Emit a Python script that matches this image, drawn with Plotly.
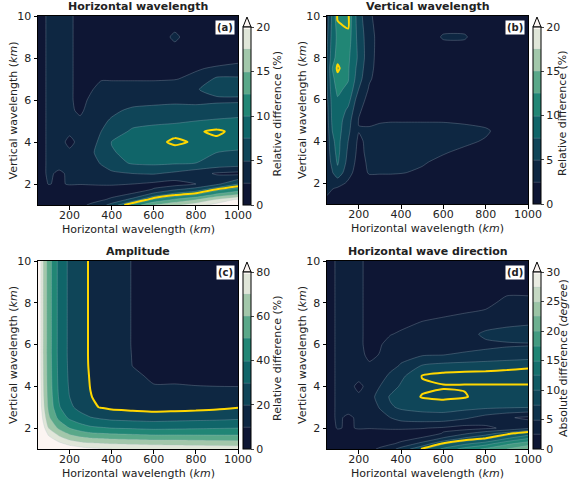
import plotly.graph_objects as go

# Grid of the sensitivity maps
x_km = [50, 75, 100, 150, 200, 250, 300, 350, 400, 500, 600, 700, 800, 900, 1000]
y_km = [1, 1.25, 1.5, 1.75, 2, 2.5, 3, 3.5, 4, 4.5, 5, 5.5, 6, 6.5, 7, 7.5, 8, 9, 10]

# (a) relative difference of horizontal wavelength (%), rows follow y_km
diff_hwl = [
    [1.5, 1.5, 1.5, 1.5, 1.5, 2, 2.8, 4, 6, 11, 15, 17, 19, 21, 24],
    [1.5, 1.5, 1.5, 1.5, 1.5, 1.5, 1.8, 2.2, 3, 6, 10.5, 13, 15, 18, 20.5],
    [1.5, 1.5, 1.5, 1.5, 1.5, 1.5, 1.5, 1.5, 1.8, 2.8, 6, 8.5, 10, 13, 15],
    [1.5, 1.5, 1.5, 1.5, 1.5, 1.5, 1.5, 1.5, 1.5, 1.5, 2.6, 4.5, 6, 9, 11],
    [1.5, 1.8, 2.6, 2.2, 2.7, 2.6, 2.7, 2.8, 2.8, 2.5, 2.0, 1.5, 2.5, 4.5, 7.5],
    [1.5, 2, 3, 2, 3, 3, 3.5, 4, 4.5, 5, 5.2, 4.5, 3.5, 2.2, 1.8],
    [1.5, 2, 3, 3.5, 3, 3.2, 4, 5.2, 6.5, 7.8, 8, 7.8, 7.5, 7, 6.5],
    [1.5, 2, 3, 3.5, 3, 3.3, 4.5, 6, 7.3, 8.2, 8.3, 8.3, 8, 7.5, 7.2],
    [1.5, 2, 3, 3.5, 1.8, 3.3, 4.2, 5.5, 7.6, 8.2, 8.5, 9.3, 8.8, 8.6, 8.5],
    [1.5, 2, 3, 3.5, 3, 3.2, 4, 5, 6, 8, 8.3, 8.5, 8.8, 9.3, 8.5],
    [1.5, 2, 3, 3.5, 3.2, 3, 3.8, 4.5, 5.3, 6.5, 7, 7.2, 7.5, 7.8, 8],
    [1.5, 2, 3, 3.5, 3, 2, 3.5, 4, 4.5, 5.5, 5.5, 5.8, 6, 6.2, 6.5],
    [1.5, 2, 3, 3.5, 3, 1.5, 3, 3.5, 4, 4, 4.5, 4.5, 4.2, 4.5, 4.5],
    [1.5, 2, 3, 3.5, 3, 1.5, 2.2, 3.5, 3.5, 3.5, 3.5, 3.8, 4.8, 6, 6.2],
    [1.5, 2, 3, 3.5, 3, 1.5, 1.5, 2.3, 2.3, 2.3, 2.3, 2.4, 3, 5.5, 5.5],
    [1.5, 2, 3, 3.5, 3, 1.5, 1, 1, 1.2, 1.5, 1.8, 2, 2.3, 2.8, 3],
    [1.5, 2, 3, 3.5, 3, 1.5, 1, 1, 1, 1, 1.5, 1.5, 1.5, 1.5, 2],
    [1.5, 2, 3, 3.5, 3, 1.5, 1, 1, 1, 1, 1.5, 2.8, 1.5, 1, 1.5],
    [1.5, 2, 3, 3.5, 3, 1.5, 1, 1, 1, 1, 1.5, 1.5, 1, 1, 1.5],
]

# (b) relative difference of vertical wavelength (%)
diff_vwl = [
    [1.5, 1.2, 1, 1, 1, 1, 1, 1, 1, 1, 1, 1, 1, 1, 1],
    [2.2, 1.6, 1.2, 1, 1, 1, 1, 1, 1, 1, 1, 1, 1, 1, 1],
    [2.7, 2.1, 1.6, 1.2, 1, 1, 1, 1, 1, 1, 1, 1, 1, 1, 1],
    [2.9, 2.6, 2.3, 1.6, 1.2, 1, 1, 1, 1, 1, 1, 1, 1, 1, 1],
    [3, 3.2, 3.3, 2.2, 1.5, 1.5, 1.3, 1.3, 1.3, 1.3, 1.2, 1.2, 1.2, 1.2, 1.2],
    [3.2, 4.8, 6.8, 3.2, 1.5, 2.7, 2.7, 2.7, 2.6, 2.2, 1.8, 1.5, 1.3, 1.2, 1.2],
    [3.3, 5.8, 7.8, 4.2, 1.5, 3, 3.2, 3.2, 3, 2.7, 2, 1.6, 1.3, 1.2, 1.2],
    [3.5, 6.5, 8.2, 4.6, 1.8, 3.2, 3.5, 3.5, 3.5, 3.2, 2.7, 2.1, 1.6, 1.3, 1.2],
    [3.6, 7, 8.3, 5, 2, 3.2, 3.5, 3.6, 3.6, 3.5, 3.3, 2.9, 2.3, 1.4, 1.2],
    [3.8, 7.5, 8.6, 5.5, 2.6, 3, 3.3, 3.5, 3.5, 3.5, 3.4, 3.2, 2.8, 1.5, 1.2],
    [4, 8, 8.8, 6, 2.4, 1.8, 2.2, 2.3, 2.3, 2.3, 2.3, 2.1, 1.8, 1.3, 1.2],
    [4.2, 8.2, 9.3, 7, 2.8, 1.6, 1.3, 1.2, 1.2, 1.2, 1.2, 1.2, 1.2, 1.2, 1.2],
    [4.5, 8.5, 9.8, 8.5, 3.5, 1.8, 1.3, 1.2, 1.2, 1.2, 1.2, 1.2, 1.2, 1.2, 1.2],
    [4.8, 9, 10.5, 9.5, 5, 2.2, 1.3, 1.2, 1.2, 1.2, 1.2, 1.2, 1.2, 1.2, 1.2],
    [5, 9.5, 11, 10.2, 6, 2.8, 1.5, 1.2, 1.2, 1.2, 1.2, 1.2, 1.2, 1.2, 1.2],
    [5, 10, 11.8, 10.3, 6.5, 3.1, 1.6, 1.2, 1.2, 1.2, 1.2, 1.2, 1.2, 1.2, 1.2],
    [5, 9, 11, 10.5, 7, 3.3, 1.6, 1.2, 1.2, 1.2, 1.2, 1.2, 1.2, 1.2, 1.2],
    [4.5, 8.5, 10.5, 11.3, 6.5, 3.5, 1.5, 1.2, 1.2, 1.2, 2.7, 2.7, 1.2, 1.2, 1.2],
    [4, 8, 11.8, 11.8, 6, 3, 1.2, 1.2, 1.2, 1.2, 1.2, 1.2, 1.2, 1.2, 1.2],
]

# (c) relative difference of amplitude (%)
diff_amp = [
    [125, 110, 100, 92, 87, 84, 82, 81, 80, 79, 78, 77.5, 77, 76.5, 76],
    [118, 102, 92, 83, 77, 74, 72, 71, 70, 69, 68, 67.5, 67, 66.5, 66],
    [112, 95, 84, 74, 67, 63, 61, 60, 59, 58, 57, 57, 56.5, 56, 56],
    [106, 89, 77, 66, 58, 54, 51, 50, 49, 48, 47, 47, 47, 47, 47],
    [102, 84, 70, 58, 50, 45, 42, 41, 40, 39, 38, 38.5, 39, 39.5, 40],
    [97, 77, 62, 47, 38, 33.5, 30.5, 28.5, 27, 26, 25.5, 26, 26.5, 27, 28],
    [94, 73, 58, 41, 32, 27, 21.5, 19.5, 18, 17, 15.7, 16.3, 17, 18, 19.5],
    [93, 71.5, 56.5, 39, 30, 24.5, 20.3, 18, 16, 14, 12.5, 12.6, 12.8, 13.3, 14],
    [92.5, 70.8, 55.8, 38, 29, 23.6, 19.7, 17, 14.5, 12.3, 10.2, 10.3, 10.1, 10, 9.9],
    [92, 70.4, 55.4, 37.5, 28.5, 23.3, 19.4, 16.5, 13.8, 10.8, 9.3, 9, 8.7, 8.6, 8.5],
    [92, 70.2, 55.2, 37.2, 28.2, 23.1, 19.1, 16.2, 13.3, 9.9, 8.8, 8.2, 7.8, 7.6, 7.5],
    [92, 70, 55, 37, 28, 23, 19, 16, 13, 9.8, 8.5, 7.8, 7.3, 7, 6.8],
    [92, 70, 55, 37, 28, 23, 19, 16, 13, 9.7, 8.3, 7.4, 6.8, 6.5, 6.2],
    [92, 70, 55, 37, 28, 23, 19, 16, 13, 9.7, 8.2, 7.2, 6.5, 6.1, 5.8],
    [92, 70, 55, 37, 28, 23, 19, 16, 13, 9.7, 8.1, 7, 6.2, 5.8, 5.5],
    [92, 70, 55, 37, 28, 23, 19, 16, 13, 9.7, 8, 6.8, 6, 5.5, 5.2],
    [92, 70, 55, 37, 28, 23, 19, 16, 13, 9.7, 8, 6.7, 5.9, 5.3, 5],
    [92, 70, 55, 37, 28, 23, 19, 16, 13, 9.7, 8, 6.6, 5.7, 5.1, 4.7],
    [92, 70, 55, 37, 28, 23, 19, 16, 13, 9.7, 8, 6.5, 5.5, 5, 4.5],
]

# (d) absolute difference of horizontal wave direction (degree)
diff_dir = [
    [1.5, 1.5, 1.5, 1.5, 1.5, 2, 2.8, 4, 6, 9.5, 13, 16, 18, 20, 22],
    [1.5, 1.5, 1.5, 1.5, 1.5, 1.5, 1.8, 2.2, 3, 6, 9.8, 12, 14, 17, 19],
    [1.5, 1.5, 1.5, 1.5, 1.5, 1.5, 1.5, 1.5, 1.8, 2.8, 5.5, 8, 9.5, 12.5, 15],
    [1.5, 1.5, 1.5, 1.5, 1.5, 1.5, 1.5, 1.5, 1.5, 1.5, 2.6, 4.5, 6.5, 8.5, 11],
    [1.5, 1.8, 2.7, 2.2, 2.7, 2.6, 2.7, 2.8, 2.8, 2.6, 2.2, 1.5, 2, 3, 4.5],
    [1.5, 2, 3, 2, 3, 3, 4, 5, 6, 6.5, 6.5, 5.5, 4, 2.8, 2],
    [1.5, 2, 3, 3.5, 3, 3.5, 5.2, 7.2, 7.9, 8.3, 8.5, 8.3, 8, 7.8, 7.6],
    [1.5, 2, 3, 3.5, 3, 4, 6, 7.8, 8.3, 9.4, 9.6, 9.4, 8.8, 8.5, 8.3],
    [1.5, 2, 3, 3.5, 1.8, 3.5, 5, 6.5, 7.8, 9, 9.2, 9.2, 9.2, 9.2, 9.2],
    [1.5, 2, 3, 3.5, 3.4, 3, 4, 5.5, 7, 9.4, 9.8, 9.8, 9.8, 9.8, 9.8],
    [1.5, 2, 3, 3.5, 3.4, 2.8, 3.5, 4.2, 5.2, 7.6, 8.2, 8.5, 8.7, 8.9, 9.1],
    [1.5, 2, 3, 3.5, 3.2, 2, 2.6, 3.8, 4.3, 4.8, 5, 5.2, 5.6, 6, 6.3],
    [1.5, 2, 3, 3.5, 3.2, 1.5, 2.3, 3.3, 3.8, 4, 4.3, 4.5, 4.5, 4.7, 4.8],
    [1.5, 2, 3, 3.5, 3.2, 1.5, 2.2, 2.4, 2.8, 3.5, 3.8, 4, 5.5, 6, 6.2],
    [1.5, 2, 3, 3.5, 3.2, 1.5, 1.5, 1.8, 2, 2.7, 3, 3.2, 4, 4.5, 4.8],
    [1.5, 2, 3, 3.5, 3.2, 1.5, 1, 1, 1.5, 1.8, 2.2, 2.5, 2.8, 3, 3],
    [1.5, 2, 3, 3.5, 3.2, 1.5, 1, 1, 1, 1, 1.2, 1.5, 2, 3, 3],
    [1.5, 2, 3, 3.5, 3.2, 1.5, 1, 1, 1, 1, 1, 1, 1, 1.5, 1.5],
    [1.5, 2, 3, 3.5, 3.2, 1.5, 1, 1, 1, 1, 1, 1, 1, 1, 1],
]

panel_fields = [diff_hwl, diff_vwl, diff_amp, diff_dir]
panel_titles = ["Horizontal wavelength", "Vertical wavelength",
                "Amplitude", "Horizontal wave direction"]
panel_tags = ["(a)", "(b)", "(c)", "(d)"]
cbar_titles = ["Relative difference (%)", "Relative difference (%)",
               "Relative difference (%)", "Absolute difference (<i>degree</i>)"]
level_top = [20, 20, 80, 30]
level_step = [2.5, 2.5, 10, 2.5]
cbar_ticks = [[0, 5, 10, 15, 20], [0, 5, 10, 15, 20],
              [0, 20, 40, 60, 80], [0, 5, 10, 15, 20, 25, 30]]
highlight_level = [9, 11.5, 20, 9.3]
x_ticks = [200, 400, 600, 800, 1000]
y_ticks = [2, 4, 6, 8, 10]

# reversed "tempo"-like palette: dark navy -> teal -> pale
PALETTE = ["#0e1634", "#0e2e48", "#0f4a5c", "#10676a", "#1e8474",
           "#4ea384", "#8fbe9d", "#cbdbc6", "#fcf5f2"]
TEXT = "#222222"


def hex_rgb(h):
    h = h.lstrip("#")
    return [int(h[i:i + 2], 16) for i in (0, 2, 4)]


def palette_at(t):
    pos = t * (len(PALETTE) - 1)
    i = min(int(pos), len(PALETTE) - 2)
    f = pos - i
    a, b = hex_rgb(PALETTE[i]), hex_rgb(PALETTE[i + 1])
    c = [round(a[k] + (b[k] - a[k]) * f) for k in range(3)]
    return "rgb(%d,%d,%d)" % tuple(c)


def band_colorscale(nbands):
    # one colour per filled band plus the "over" colour above the last level
    cols = [palette_at(k / nbands) for k in range(nbands + 1)]
    nlev = nbands + 1
    scale = [[0.0, cols[0]]]
    for k in range(1, nlev + 1):
        scale.append([k / nlev, cols[k - 1]])
    return scale


W, H = 570, 483
# plot boxes in pixels: left, right, top, bottom
boxes = [(38, 238, 16, 205), (327, 528, 16, 204),
         (38, 238, 261, 449), (327, 528, 261, 449)]

fig = go.Figure()
layout = dict(
    width=W, height=H, margin=dict(l=0, r=0, t=0, b=0, autoexpand=False),
    paper_bgcolor="white", plot_bgcolor="white",
    font=dict(family="DejaVu Sans", size=11, color=TEXT),
    showlegend=False, annotations=[], shapes=[],
)

for i in range(4):
    L, R, T, B = boxes[i]
    xa = "x" if i == 0 else "x%d" % (i + 1)
    ya = "y" if i == 0 else "y%d" % (i + 1)
    nb = int(round(level_top[i] / level_step[i]))
    fig.add_trace(go.Contour(
        x=x_km, y=y_km, z=panel_fields[i], xaxis=xa, yaxis=ya,
        contours=dict(start=0, end=level_top[i], size=level_step[i], coloring="fill"),
        colorscale=band_colorscale(nb), zmin=0, zmax=level_top[i],
        line=dict(width=0.5, color="rgba(170,190,200,0.55)", smoothing=0.6),
        colorbar=dict(
            x=(R + 5) / W, xanchor="left", y=1 - B / H, yanchor="bottom",
            xpad=0, ypad=0,
            lenmode="pixels", len=B - T - 11, thickness=8,
            outlinewidth=1, outlinecolor="black",
            tickvals=cbar_ticks[i], ticks="outside", ticklen=3,
            tickfont=dict(size=11, color=TEXT),
        ),
        hoverinfo="skip",
    ))
    fig.add_trace(go.Contour(
        x=x_km, y=y_km, z=panel_fields[i], xaxis=xa, yaxis=ya,
        contours=dict(start=highlight_level[i], end=highlight_level[i], size=1,
                      coloring="none"),
        line=dict(width=2, color="#ffd700", smoothing=0.6),
        showscale=False, hoverinfo="skip",
    ))
    axis_common = dict(showline=True, mirror=True, linecolor="black", linewidth=1,
                       ticks="outside", ticklen=3.5, tickcolor="black",
                       showgrid=False, zeroline=False, tickfont=dict(size=11, color=TEXT))
    layout["xaxis" if i == 0 else "xaxis%d" % (i + 1)] = dict(
        domain=[L / W, R / W], anchor=ya, range=[50, 1000], tickvals=x_ticks,
        ticklabelstandoff=-4, **axis_common)
    layout["yaxis" if i == 0 else "yaxis%d" % (i + 1)] = dict(
        domain=[1 - B / H, 1 - T / H], anchor=xa, range=[1, 10], tickvals=y_ticks,
        **axis_common)
    ann = layout["annotations"]
    ann.append(dict(
        text="Horizontal wavelength (<i>km</i>)", xref="paper", yref="paper",
        x=(L + R) / 2 / W, y=1 - (B + 24) / H, xanchor="center", yanchor="middle",
        showarrow=False, font=dict(size=11, color=TEXT)))
    ann.append(dict(
        text="Vertical wavelength (<i>km</i>)", xref="paper", yref="paper",
        x=(L - 25) / W, y=1 - (T + B) / 2 / H, xanchor="center", yanchor="middle",
        textangle=-90, showarrow=False, font=dict(size=11, color=TEXT)))
    ann.append(dict(
        text=cbar_titles[i], xref="paper", yref="paper",
        x=min(R + 39, 563) / W, y=1 - (T + 6 + B) / 2 / H, xanchor="center",
        yanchor="middle", textangle=-90, showarrow=False,
        font=dict(size=11, color=TEXT)))
    ann.append(dict(
        text="<b>%s</b>" % panel_titles[i], xref="paper", yref="paper",
        x=(L + R) / 2 / W, y=1 - (T - 1) / H, xanchor="center", yanchor="bottom",
        showarrow=False, font=dict(size=11, color=TEXT)))
    ann.append(dict(
        text="<b>%s</b>" % panel_tags[i], xref="paper", yref="paper",
        x=(R - 3) / W, y=1 - (T + 4) / H, xanchor="right", yanchor="top",
        showarrow=False, bgcolor="white", borderpad=1,
        font=dict(size=10, color=TEXT)))
    # extension triangle on top of the colour bar
    cx0, cx1 = (R + 5) / W, (R + 13) / W
    cy0 = 1 - (T + 11) / H
    cy1 = 1 - (T + 1) / H
    layout["shapes"].append(dict(
        type="path", xref="paper", yref="paper",
        path="M %f,%f L %f,%f L %f,%f Z" % (cx0, cy0, cx1, cy0, (cx0 + cx1) / 2, cy1),
        fillcolor=palette_at(1.0), line=dict(color="black", width=1)))

fig.update_layout(**layout)
fig.write_html("out.html")
